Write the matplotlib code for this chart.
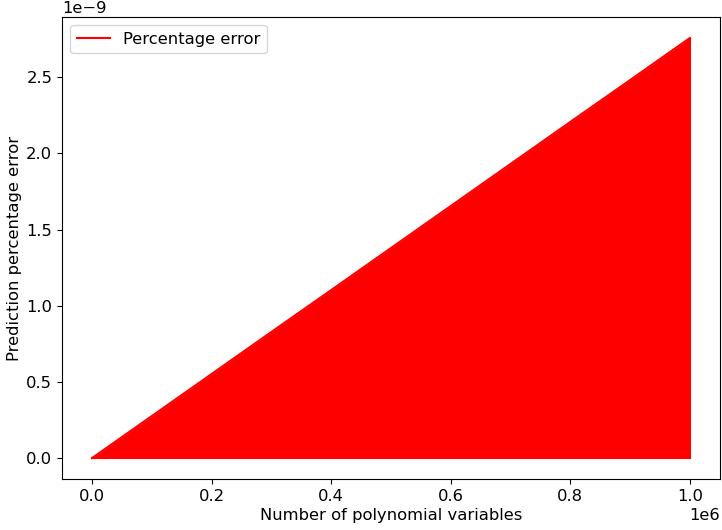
import matplotlib
matplotlib.use("Agg")
import matplotlib.pyplot as plt

# upper envelope of the oscillating error
num_vars = [0, 100000, 200000, 300000, 400000, 500000, 600000, 700000, 800000, 900000, 1000000]
peak_error = [0.0, 0.276e-9, 0.552e-9, 0.828e-9, 1.103e-9, 1.379e-9, 1.655e-9, 1.931e-9, 2.207e-9, 2.482e-9, 2.758e-9]

plt.rcParams["font.size"] = 11.8

fig = plt.figure(figsize=(7.22, 5.30), dpi=100)
ax = fig.add_axes([0.086, 0.096, 0.911, 0.872])

ax.fill_between(num_vars, 0, peak_error, color="red", linewidth=0)
ax.plot(num_vars, peak_error, color="red", label="Percentage error")
ax.plot([num_vars[0], num_vars[-1]], [0, 0], color="red")
ax.vlines(num_vars[-1], 0, peak_error[-1], color="red")

ax.set_xlabel("Number of polynomial variables", labelpad=3)
ax.set_ylabel("Prediction percentage error", labelpad=3)
ax.legend(loc="upper left")

fig.savefig("out.png", dpi=100)
